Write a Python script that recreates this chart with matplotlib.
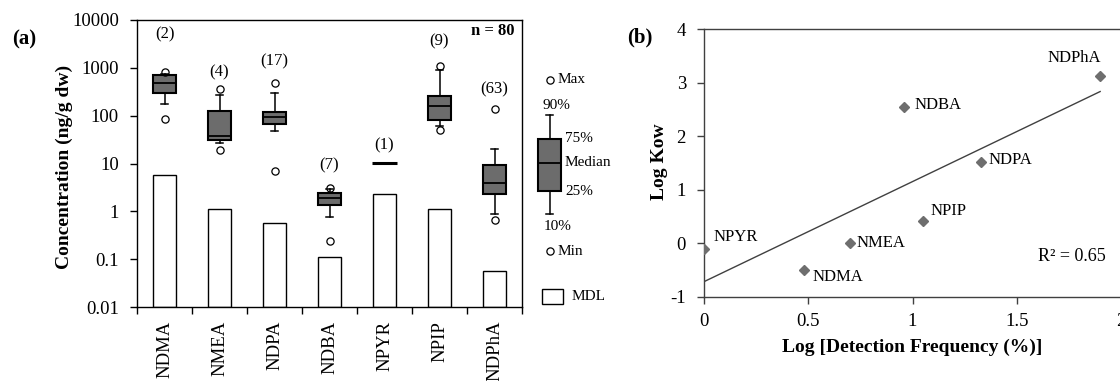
import numpy as np
import matplotlib
matplotlib.use('Agg')
import matplotlib.pyplot as plt
from matplotlib.patches import Rectangle

plt.rcParams['font.family'] = ['Liberation Serif', 'DejaVu Serif']
plt.rcParams['axes.unicode_minus'] = False

# ---------------- data: panel (a) ----------------
compounds = ['NDMA', 'NMEA', 'NDPA', 'NDBA', 'NPYR', 'NPIP', 'NDPhA']
n_detected = [2, 4, 17, 7, 1, 9, 63]
n_total = 80
mdl = [5.7, 1.14, 0.58, 0.112, 2.3, 1.14, 0.056]
conc_min = [87, 18.9, 7.0, 0.24, 10.4, 49, 0.65]
conc_p10 = [173, 26.5, 47, 0.77, 10.4, 61, 0.87]
conc_q1 = [298, 31.7, 67, 1.34, 10.4, 83, 2.35]
conc_med = [490, 37, 93, 1.94, 10.4, 157, 4.0]
conc_q3 = [700, 128, 122, 2.38, 10.4, 259, 9.2]
conc_p90 = [760, 272, 298, 2.9, 10.4, 880, 19.8]
conc_max = [830, 369, 476, 3.1, 10.4, 1096, 136]
yticks_a = [0.01, 0.1, 1, 10, 100, 1000, 10000]
yticklabels_a = ['0.01', '0.1', '1', '10', '100', '1000', '10000']

# ---------------- data: panel (b) ----------------
log_detect_freq = [0.48, 0.70, 1.33, 0.96, 0.00, 1.05, 1.90]
log_kow = [-0.51, 0.00, 1.52, 2.54, -0.11, 0.42, 3.12]
xticks_b = [0, 0.5, 1, 1.5, 2]
xticklabels_b = ['0', '0.5', '1', '1.5', '2']
yticks_b = [-1, 0, 1, 2, 3, 4]

# ---------------- layout helpers ----------------
W, H = 1120, 381
fig = plt.figure(figsize=(W / 100, H / 100), dpi=100)

def fx(px):
    return px / W

def fy(py):
    return 1 - py / H

box_gray = '#6c6c6c'
axis_gray = '#404040'

# ================= panel (a) =================
ax = fig.add_axes([fx(137), fy(307), fx(522) - fx(137), fy(20) - fy(307)])
ax.set_yscale('log')
ax.set_ylim(0.01, 10000)
ax.set_xlim(-0.5, len(compounds) - 0.5)
pos_all = np.arange(len(compounds))

ax.bar(pos_all, np.array(mdl) - 0.01, bottom=0.01, width=0.42,
       color='white', edgecolor='black', linewidth=1, zorder=2)

stats, pos = [], []
for i, c in enumerate(compounds):
    if n_detected[i] > 1:
        stats.append(dict(label=c, med=conc_med[i], q1=conc_q1[i], q3=conc_q3[i],
                          whislo=conc_p10[i], whishi=conc_p90[i],
                          fliers=[conc_min[i], conc_max[i]]))
        pos.append(i)
    else:
        ax.hlines(conc_med[i], i - 0.22, i + 0.22, color='black', lw=2.2, zorder=3)

bp_kw = dict(widths=0.42, patch_artist=True, capwidths=0.12, manage_ticks=False,
             boxprops=dict(facecolor=box_gray, edgecolor='black', linewidth=1.5),
             medianprops=dict(color='black', linewidth=1.3),
             whiskerprops=dict(color='black', linewidth=1.1),
             capprops=dict(color='black', linewidth=1.1),
             flierprops=dict(marker='o', markerfacecolor='none', markeredgecolor='black',
                             markersize=5.2, markeredgewidth=0.9))
ax.bxp(stats, positions=pos, zorder=3, **bp_kw)

count_label_y = [5045, 821, 1355, 9.3, 24.4, 3600, 357]
for i, n in enumerate(n_detected):
    ax.text(i, count_label_y[i], f'({n})', ha='center', va='center', fontsize=12)

ax.text(0.98, 0.962, f'n = {n_total}', transform=ax.transAxes, ha='right', va='center',
        fontsize=12, fontweight='bold')

ax.set_yticks(yticks_a)
ax.set_yticklabels(yticklabels_a)
ax.yaxis.set_minor_locator(matplotlib.ticker.NullLocator())
ax.tick_params(axis='y', which='major', direction='out', length=5, width=1, pad=8,
               labelsize=13.5)
ax.set_xticks(pos_all)
ax.set_xticklabels(compounds, rotation=90)
ax.set_xticks(np.arange(-0.5, len(compounds), 1), minor=True)
ax.tick_params(axis='x', which='major', length=0, pad=10, labelsize=13.5)
ax.tick_params(axis='x', which='minor', direction='out', length=5, width=1)
for s in ax.spines.values():
    s.set_color('black')
    s.set_linewidth(1)

fig.text(fx(64), fy(167), 'Concentration (ng/g dw)', rotation=90, ha='center',
         va='center', fontsize=14, fontweight='bold')
fig.text(fx(24), fy(39), '(a)', ha='center', va='center', fontsize=15, fontweight='bold')

# ---------------- box-plot key ----------------
axk = fig.add_axes([fx(522), fy(307), fx(632) - fx(522), fy(20) - fy(307)])
axk.set_yscale('log')
axk.set_ylim(0.01, 10000)
axk.set_xlim(6.5, 8.5)
axk.axis('off')
key = dict(med=10.4, q1=2.66, q3=33, whislo=0.865, whishi=105, fliers=[0.148, 558])
axk.bxp([key], positions=[7.0], **bp_kw)
kfs = 11
axk.text(7.15, 558, 'Max', ha='left', va='center', fontsize=kfs)
axk.text(7.13, 160, '90%', ha='center', va='center', fontsize=kfs)
axk.text(7.29, 33, '75%', ha='left', va='center', fontsize=kfs)
axk.text(7.27, 10.4, 'Median', ha='left', va='center', fontsize=kfs)
axk.text(7.29, 2.6, '25%', ha='left', va='center', fontsize=kfs)
axk.text(7.14, 0.49, '10%', ha='center', va='center', fontsize=kfs)
axk.text(7.15, 0.148, 'Min', ha='left', va='center', fontsize=kfs)
axk.add_patch(Rectangle((6.86, 0.0113), 0.38, 0.012, facecolor='white',
                        edgecolor='black', linewidth=1))
axk.text(7.4, 0.0167, 'MDL', ha='left', va='center', fontsize=kfs)

# ================= panel (b) =================
bx = fig.add_axes([fx(704), fy(296.7), fx(1121) - fx(704), fy(29.3) - fy(296.7)])
bx.set_xlim(0, 2)
bx.set_ylim(-1, 4)
xd = np.array(log_detect_freq)
yd = np.array(log_kow)
slope, intercept = np.polyfit(xd, yd, 1)
pred = slope * xd + intercept
r2 = 1 - np.sum((yd - pred) ** 2) / np.sum((yd - yd.mean()) ** 2)
xl = np.array([xd.min(), xd.max()])
bx.plot(xl, slope * xl + intercept, color=axis_gray, lw=1, zorder=2)
bx.plot(xd, yd, linestyle='none', marker='D', markersize=5, color='#6e6e6e', zorder=3)

label_offsets = [(8, -7, 'left'), (7, 0, 'left'), (7, 2, 'left'), (10, 2, 'left'),
                 (10, 12, 'left'), (8, 10, 'left'), (-26, 18, 'center')]
for i, c in enumerate(compounds):
    dx, dy, ha = label_offsets[i]
    bx.annotate(c, (xd[i], yd[i]), xytext=(dx, dy), textcoords='offset pixels',
                ha=ha, va='center', fontsize=12)

bx.text(1.765, -0.25, f'R² = {r2:.2f}', ha='center', va='center', fontsize=13)

bx.set_xticks(xticks_b)
bx.set_xticklabels(xticklabels_b)
bx.set_yticks(yticks_b)
bx.tick_params(axis='both', direction='out', length=5, width=1, color=axis_gray,
               labelsize=13.5)
bx.tick_params(axis='y', pad=8)
bx.tick_params(axis='x', pad=7)
for s in bx.spines.values():
    s.set_color(axis_gray)
    s.set_linewidth(1)
bx.spines['right'].set_visible(False)

fig.text(fx(659), fy(162), 'Log Kow', rotation=90, ha='center', va='center',
         fontsize=14, fontweight='bold')
fig.text(fx(912), fy(347), 'Log [Detection Frequency (%)]', ha='center', va='center',
         fontsize=14, fontweight='bold')
fig.text(fx(640), fy(37), '(b)', ha='center', va='center', fontsize=15, fontweight='bold')

fig.savefig('out.png', dpi=100)
